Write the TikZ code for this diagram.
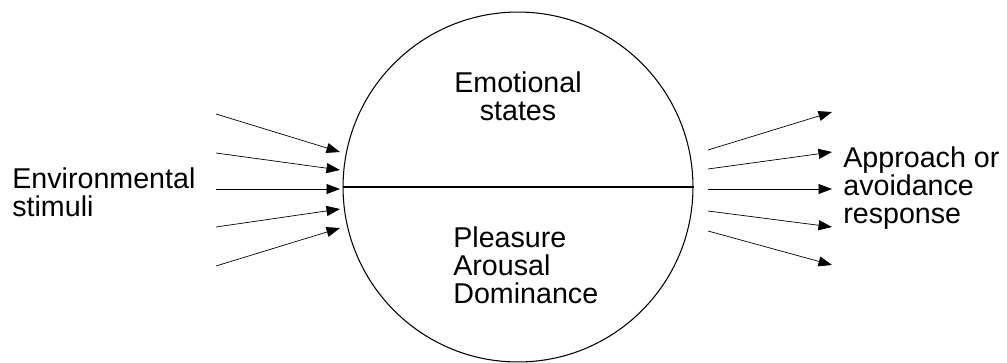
\documentclass[tikz,border=0pt]{standalone}
\usepackage{fontspec}
\setmainfont{Liberation Sans}
\usetikzlibrary{arrows.meta}
\tikzset{
  arr/.style={line width=0.4pt,-{Triangle[length=0.27cm,width=0.2cm]}},
  lbl/.style={inner sep=0pt,font=\fontsize{16.3pt}{15.9pt}\selectfont}
}
\begin{document}
\begin{tikzpicture}[x=0.02cm,y=-0.02cm]
  \useasboundingbox (0,0) rectangle (1007,362);
  %cerchio degli stati emotivi
  \node[draw,circle,line width=0.6pt,minimum size=7cm,inner sep=0pt] (emo) at (518,187) {};
  \draw[line width=0.6pt] (emo.west) -- (emo.east);
  %testi (base = ultima riga)
  \node[lbl,anchor=base west,align=left] (env) at (12,216) {Environmental\\stimuli};
  \node[lbl,anchor=base,align=center] (states) at (518,120) {Emotional\\states};
  \node[lbl,anchor=base west,align=left] (pad) at (453,303) {Pleasure\\Arousal\\Dominance};
  \node[lbl,anchor=base west,align=left] (resp) at (843,223) {Approach or\\avoidance\\response};
  %frecce in entrata
  \foreach \i/\ys/\ye in {1/114/152,2/153/170,3/189/189,4/227/209,5/266/228}{
    \coordinate (in\i s) at (216,\ys);
    \coordinate (in\i e) at (340,\ye);
    \draw[arr] (in\i s) -- (in\i e);
  }
  %frecce in uscita
  \foreach \i/\ys/\ye in {1/150/112,2/169/152,3/189/189,4/211/227,5/231/265}{
    \coordinate (out\i s) at (708,\ys);
    \coordinate (out\i e) at (832,\ye);
    \draw[arr] (out\i s) -- (out\i e);
  }
\end{tikzpicture}
\end{document}
